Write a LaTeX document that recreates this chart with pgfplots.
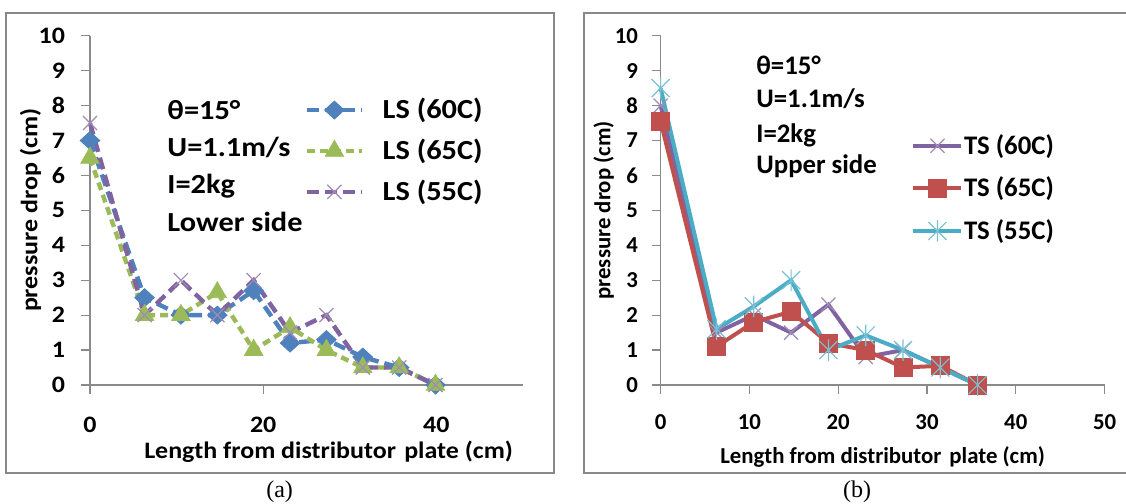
\documentclass[border=0pt]{standalone}
\usepackage{fontspec}
\setmainfont{Carlito}
\newfontfamily\widefont{Carlito}[FakeStretch=1.1]
\newfontfamily\capfont{Liberation Serif}
\usepackage{pgfplots}
\pgfplotsset{compat=1.18}

\definecolor{xlblue}{HTML}{4F81BD}
\definecolor{xlgreen}{HTML}{9BBB59}
\definecolor{xlpurple}{HTML}{8064A2}
\definecolor{xlred}{HTML}{C0504D}
\definecolor{xlcyan}{HTML}{4BACC6}
\definecolor{axgray}{HTML}{8A8A8A}
\definecolor{framegray}{HTML}{888888}

% Excel-like star marker: an x with a vertical stroke
\pgfdeclareplotmark{xstar}{%
  \pgfpathmoveto{\pgfqpoint{-\pgfplotmarksize}{-\pgfplotmarksize}}%
  \pgfpathlineto{\pgfqpoint{\pgfplotmarksize}{\pgfplotmarksize}}%
  \pgfpathmoveto{\pgfqpoint{-\pgfplotmarksize}{\pgfplotmarksize}}%
  \pgfpathlineto{\pgfqpoint{\pgfplotmarksize}{-\pgfplotmarksize}}%
  \pgfpathmoveto{\pgfqpoint{0pt}{-1.2\pgfplotmarksize}}%
  \pgfpathlineto{\pgfqpoint{0pt}{1.2\pgfplotmarksize}}%
  \pgfusepathqstroke}

% panel (a) text is a little wider than panel (b)
\newcommand\fa{\widefont\fontsize{11.8}{14}\selectfont\bfseries}
\newcommand\fal{\widefont\fontsize{13.8}{16}\selectfont\bfseries}
\newcommand\fb{\fontsize{11.4}{14}\selectfont\bfseries}
\newcommand\fbl{\fontsize{13.4}{16}\selectfont\bfseries}

\pgfplotsset{
  xlstyle/.style={
    scale only axis, anchor=south west, clip=false,
    xmin=0, xmax=50, ymin=0, ymax=10,
    axis x line*=bottom, axis y line*=left,
    axis line style={-, draw=axgray, line width=0.6pt},
    tick align=outside, major tick length=4.5pt,
    tick style={draw=axgray, line width=0.6pt},
    ytick={0,1,...,10},
    /pgf/number format/assume math mode=true,
    legend cell align=left,
  },
}

\begin{document}
\begin{tikzpicture}
\path[use as bounding box] (0,0) rectangle (563pt,252pt);
\draw[framegray, line width=1pt] (3.2pt,15.5pt) rectangle (276.8pt,245.5pt);
\draw[framegray, line width=1pt] (566pt,245.5pt) -- (292pt,245.5pt) -- (292pt,15.5pt) -- (566pt,15.5pt);
\node[font=\capfont\fontsize{12}{14}\selectfont] at (139.8pt,6.2pt) {(a)};
\node[font=\capfont\fontsize{12}{14}\selectfont] at (428.5pt,6.2pt) {(b)};

% (a) lower side
\begin{axis}[xlstyle,
  at={(45pt,59.5pt)}, width=216.5pt, height=174.65pt,
  xtick={0,20,40},
  ticklabel style={font=\fa},
  xticklabel style={yshift=-8pt},
  yticklabel style={xshift=-4.5pt},
  xlabel={Length from distributor\hspace{0.35em}plate (cm)},
  ylabel={pressure drop (cm)},
  label style={font=\fa},
  xlabel style={at={(axis description cs:0.551,-0.191)}, anchor=center},
  ylabel style={at={(axis description cs:-0.1376,0.5)}, anchor=center},
  legend style={at={(axis cs:24.75,6.70)}, anchor=west, draw=none, fill=none,
    font=\fal, inner sep=0pt, row sep=4.7pt, column sep=7.3pt},
  legend image code/.code={\draw[mark repeat=2,mark phase=2]
    plot coordinates {(0pt,0pt)(13.75pt,0pt)(27.5pt,0pt)};},
]
\addplot[xlblue, line width=2.2pt, dash pattern=on 6pt off 3pt,
  mark=diamond*, mark size=4.5pt,
  mark options={solid, xscale=1.45, line width=0.4pt, fill=xlblue}]
  coordinates {(0,7) (6.3,2.5) (10.5,2) (14.7,2) (18.9,2.7) (23.1,1.2)
               (27.3,1.3) (31.5,0.8) (35.7,0.5) (39.9,0)};
\addlegendentry{LS (60C)}
\addplot[xlgreen, line width=2.2pt, dash pattern=on 4pt off 2.5pt,
  mark=triangle*, mark size=5.3pt,
  mark options={solid, line width=0.4pt, fill=xlgreen}]
  coordinates {(0,6.5) (6.3,2) (10.5,2) (14.7,2.65) (18.9,1) (23.1,1.65)
               (27.3,1) (31.5,0.5) (35.7,0.5) (39.9,0)};
\addlegendentry{LS (65C)}
\addplot[xlpurple, line width=2.2pt, dash pattern=on 6pt off 3pt,
  mark=x, mark size=5pt,
  mark options={solid, line width=0.6pt, draw=xlpurple!75}]
  coordinates {(0,7.5) (6.3,2) (10.5,3) (14.7,2) (18.9,3) (23.1,1.5)
               (27.3,2) (31.5,0.5) (35.7,0.5) (39.9,0)};
\addlegendentry{LS (55C)}
\node[font=\fal, anchor=west, inner sep=0pt] at (axis cs:8.9,7.87) {θ=15°};
\node[font=\fal, anchor=west, inner sep=0pt] at (axis cs:8.9,6.79) {U=1.1m/s};
\node[font=\fal, anchor=west, inner sep=0pt] at (axis cs:8.9,5.68) {I=2kg};
\node[font=\fal, anchor=west, inner sep=0pt] at (axis cs:8.9,4.68) {Lower side};
\end{axis}

% (b) upper side
\begin{axis}[xlstyle,
  at={(330.3pt,59.5pt)}, width=222pt, height=174.65pt,
  xtick={0,10,...,50},
  ticklabel style={font=\fb},
  xticklabel style={yshift=-6.6pt},
  yticklabel style={xshift=-3.3pt},
  xlabel={Length from distributor\hspace{0.35em}plate (cm)},
  ylabel={pressure drop (cm)},
  label style={font=\fb},
  xlabel style={at={(axis description cs:0.5,-0.2054)}, anchor=center},
  ylabel style={at={(axis description cs:-0.1284,0.5)}, anchor=center},
  legend style={at={(axis cs:28.2,5.63)}, anchor=west, draw=none, fill=none,
    font=\fbl, inner sep=0pt, row sep=5.85pt, column sep=-1.7pt},
  legend image code/.code={\draw[mark repeat=2,mark phase=2]
    plot coordinates {(0pt,0pt)(12pt,0pt)(24pt,0pt)};},
]
\addplot[xlpurple, line width=2pt, mark=x, mark size=5pt,
  mark options={line width=0.6pt, draw=xlpurple!75}]
  coordinates {(0,8) (6.3,1.5) (10.5,2) (14.7,1.5) (18.9,2.3) (23.1,0.8)
               (27.3,1) (31.5,0.5) (35.7,0)};
\addlegendentry{TS (60C)}
\addplot[xlred, line width=2pt, mark=square*, mark size=4.5pt,
  mark options={line width=0.4pt, fill=xlred}]
  coordinates {(0,7.55) (6.3,1.1) (10.5,1.8) (14.7,2.1) (18.9,1.2) (23.1,1)
               (27.3,0.5) (31.5,0.55) (35.7,0)};
\addlegendentry{TS (65C)}
\addplot[xlcyan, line width=2pt, mark=xstar, mark size=4.5pt,
  mark options={line width=0.6pt, draw=xlcyan!75}]
  coordinates {(0,8.5) (6.3,1.6) (10.5,2.25) (14.7,3) (18.9,1) (23.1,1.42)
               (27.3,1) (31.5,0.5) (35.7,0)};
\addlegendentry{TS (55C)}
\node[font=\fbl, anchor=west, inner sep=0pt] at (axis cs:10.74,9.16) {θ=15°};
\node[font=\fbl, anchor=west, inner sep=0pt] at (axis cs:10.74,8.19) {U=1.1m/s};
\node[font=\fbl, anchor=west, inner sep=0pt] at (axis cs:10.74,7.16) {I=2kg};
\node[font=\fbl, anchor=west, inner sep=0pt] at (axis cs:10.74,6.25) {Upper side};
\end{axis}
\end{tikzpicture}
\end{document}
